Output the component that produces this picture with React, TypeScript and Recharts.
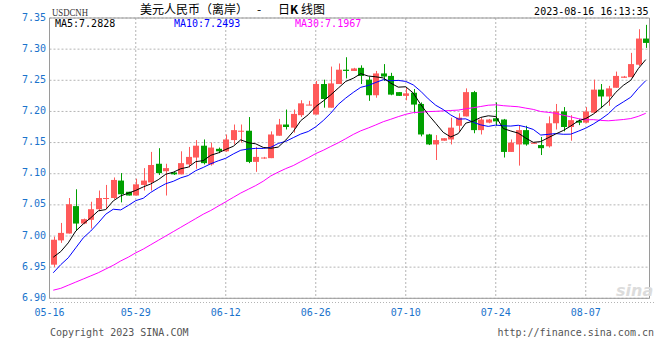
import React from 'react';
import { ComposedChart, Bar, Line, XAxis, YAxis, CartesianGrid, ReferenceLine } from 'recharts';

// ---- data (USD/CNH daily K, Mon–Sat sessions) ----
const dates = [
  '05-16','05-17','05-18','05-19','05-20',
  '05-22','05-23','05-24','05-25','05-26','05-27',
  '05-29','05-30','05-31','06-01','06-02','06-03',
  '06-05','06-06','06-07','06-08','06-09','06-10',
  '06-12','06-13','06-14','06-15','06-16','06-17',
  '06-19','06-20','06-21','06-22','06-23','06-24',
  '06-26','06-27','06-28','06-29','06-30','07-01',
  '07-03','07-04','07-05','07-06','07-07','07-08',
  '07-10','07-11','07-12','07-13','07-14','07-15',
  '07-17','07-18','07-19','07-20','07-21','07-22',
  '07-24','07-25','07-26','07-27','07-28','07-29',
  '07-31','08-01','08-02','08-03','08-04','08-05',
  '08-07','08-08','08-09','08-10','08-11','08-12',
  '08-14','08-15','08-16',
];

const opens = [
  6.954, 6.993, 7.004, 7.048, 7.020, 7.026, 7.043, 7.060, 7.061, 7.089,
  7.071, 7.065, 7.082, 7.086, 7.116, 7.104, 7.102, 7.099, 7.115, 7.126,
  7.145, 7.115, 7.140, 7.136, 7.154, 7.168, 7.169, 7.119, 7.125, 7.125,
  7.161, 7.179, 7.174, 7.194, 7.210, 7.195, 7.244, 7.206, 7.244, 7.267,
  7.265, 7.270, 7.251, 7.226, 7.261, 7.257, 7.231, 7.225, 7.230, 7.212,
  7.163, 7.147, 7.153, 7.155, 7.177, 7.192, 7.231, 7.170, 7.182, 7.189,
  7.187, 7.135, 7.147, 7.170, 7.148, 7.146, 7.144, 7.181, 7.200, 7.175,
  7.185, 7.182, 7.198, 7.235, 7.224, 7.238, 7.254, 7.255, 7.275, 7.317,
];
const highs = [
  6.999, 7.021, 7.061, 7.075, 7.028, 7.055, 7.073, 7.082, 7.094, 7.101,
  7.071, 7.092, 7.109, 7.135, 7.141, 7.116, 7.103, 7.136, 7.143, 7.154,
  7.155, 7.150, 7.142, 7.163, 7.179, 7.179, 7.191, 7.143, 7.127, 7.168,
  7.188, 7.203, 7.203, 7.218, 7.217, 7.249, 7.251, 7.272, 7.277, 7.287,
  7.270, 7.274, 7.256, 7.265, 7.276, 7.262, 7.231, 7.238, 7.236, 7.2145,
  7.164, 7.162, 7.157, 7.190, 7.197, 7.237, 7.233, 7.190, 7.188, 7.2145,
  7.188, 7.155, 7.177, 7.177, 7.150, 7.159, 7.192, 7.212, 7.207, 7.194,
  7.1875, 7.207, 7.251, 7.244, 7.241, 7.264, 7.257, 7.294, 7.332, 7.339,
];
const lows = [
  6.950, 6.989, 7.004, 7.008, 7.019, 7.012, 7.040, 7.043, 7.059, 7.054,
  7.065, 7.065, 7.073, 7.073, 7.098, 7.065, 7.098, 7.099, 7.110, 7.108,
  7.115, 7.113, 7.133, 7.135, 7.147, 7.150, 7.117, 7.103, 7.124, 7.125,
  7.161, 7.171, 7.166, 7.191, 7.210, 7.195, 7.206, 7.206, 7.244, 7.253,
  7.265, 7.244, 7.217, 7.222, 7.249, 7.226, 7.225, 7.218, 7.197, 7.160,
  7.146, 7.122, 7.153, 7.147, 7.167, 7.192, 7.165, 7.163, 7.181, 7.177,
  7.126, 7.135, 7.113, 7.145, 7.148, 7.130, 7.142, 7.171, 7.168, 7.153,
  7.178, 7.181, 7.197, 7.205, 7.209, 7.238, 7.254, 7.255, 7.273, 7.302,
];
const closes = [
  6.994, 7.005, 7.051, 7.020, 7.027, 7.043, 7.061, 7.061, 7.090, 7.067,
  7.065, 7.083, 7.089, 7.114, 7.101, 7.109, 7.099, 7.117, 7.127, 7.145,
  7.117, 7.142, 7.136, 7.155, 7.170, 7.169, 7.119, 7.127, 7.126, 7.163,
  7.179, 7.175, 7.196, 7.213, 7.211, 7.244, 7.220, 7.245, 7.267, 7.265,
  7.269, 7.257, 7.226, 7.261, 7.256, 7.227, 7.225, 7.229, 7.211, 7.163,
  7.147, 7.154, 7.157, 7.174, 7.190, 7.231, 7.170, 7.187, 7.187, 7.184,
  7.135, 7.150, 7.170, 7.147, 7.150, 7.141, 7.181, 7.200, 7.175, 7.186,
  7.182, 7.200, 7.235, 7.224, 7.237, 7.257, 7.256, 7.276, 7.317, 7.310,
];

const ma5Lead = [6.966, 6.975, 6.989, 7.008];
const ma10Lead = [6.941, 6.954, 6.965, 6.981, 6.997, 7.008, 7.021, 7.035, 7.043];
const ma30Lead = [
  6.913, 6.916, 6.921, 6.926, 6.931, 6.936, 6.941, 6.947, 6.953, 6.960,
  6.966, 6.973, 6.979, 6.986, 6.993, 7.000, 7.007, 7.014, 7.021, 7.028,
  7.035, 7.041, 7.048, 7.055, 7.062, 7.069, 7.075, 7.081, 7.088,
];

const yTicks = [6.9, 6.95, 7.0, 7.05, 7.1, 7.15, 7.2, 7.25, 7.3, 7.35];
const tickDates = ['05-16', '05-29', '06-12', '06-26', '07-10', '07-24', '08-07'];

const maLabels = { ma5: 'MA5:7.2828', ma10: 'MA10:7.2493', ma30: 'MA30:7.1967' };

// ---- styling ----
const RED = '#ff5a5a';
const GREEN = '#00a000';
const BLUE_TXT = '#1a73cc';
const BORDER = '#9a9a9a';
const GRID = '#b4b4b4';
const MONO = '"DejaVu Sans Mono", monospace';

const movingAvg = (n: number, lead: number[], i: number) => {
  if (i < lead.length) return lead[i];
  let s = 0;
  for (let k = i - n + 1; k <= i; k++) s += closes[k];
  return s / n;
};

const rows = dates.map((d, i) => ({
  date: d,
  pos: i + 0.5,
  open: opens[i],
  high: highs[i],
  low: lows[i],
  close: closes[i],
  range: [lows[i], highs[i]],
  ma5: movingAvg(5, ma5Lead, i),
  ma10: movingAvg(10, ma10Lead, i),
  ma30: movingAvg(30, ma30Lead, i),
}));

const tickPos = tickDates.map((d) => {
  const k = dates.indexOf(d);
  return k === 0 ? 0 : k + 0.5;
});

const Candle = (props: any) => {
  const { x, y, width, height, payload } = props;
  if (!payload || x == null || y == null) return null;
  const { open, close, high, low } = payload;
  const top = Math.min(y, y + height);
  const h = Math.abs(height);
  const span = high - low;
  const toY = (v: number) => (span > 0 ? top + ((high - v) / span) * h : top);
  const color = close >= open ? RED : GREEN;
  const left = Math.round(x);
  const w = Math.round(width);
  const cx = left + Math.floor(w / 2) + 0.5;
  const yo = toY(open);
  const yc = toY(close);
  const bodyTop = Math.min(yo, yc);
  const bodyH = Math.max(1, Math.abs(yo - yc));
  return (
    <g>
      <line x1={cx} x2={cx} y1={top} y2={top + Math.max(h, 1)} stroke={color} strokeWidth={1} />
      <rect x={left} y={bodyTop} width={w} height={bodyH} fill={color} />
    </g>
  );
};

const YTick = (p: any) => (
  <text x={p.x} y={p.y + 2.5} textAnchor="end" fill={BLUE_TXT} fontSize={10} fontFamily={MONO}>
    {Number(p.payload.value).toFixed(2)}
  </text>
);

export default function App() {
  return (
    <div style={{ position: 'absolute', left: 0, top: 0, width: 660, height: 360, background: '#fff' }}>
      <ComposedChart
        width={660}
        height={360}
        data={rows}
        margin={{ top: 18, right: 10.5, bottom: 41.7, left: 9.5 }}
      >
        <CartesianGrid xAxisId="t" stroke={GRID} strokeDasharray="2 2" />
        <XAxis xAxisId="c" dataKey="date" hide orientation="top" height={0} />
        <XAxis
          xAxisId="t"
          type="number"
          dataKey="pos"
          domain={[0, 80]}
          allowDataOverflow
          ticks={tickPos}
          interval={0}
          tickFormatter={(v: number) => tickDates[tickPos.indexOf(v)] ?? ''}
          axisLine={{ stroke: BORDER }}
          tickLine={false}
          tickSize={0}
          tickMargin={11}
          height={20}
          tick={{ fill: BLUE_TXT, fontSize: 10, fontFamily: MONO }}
        />
        <YAxis
          domain={[6.9, 7.35]}
          ticks={yTicks}
          interval={0}
          allowDataOverflow
          width={40}
          axisLine={{ stroke: BORDER }}
          tickLine={false}
          tickSize={0}
          tickMargin={3.5}
          tick={YTick}
        />
        <ReferenceLine y={7.35} stroke={BORDER} />
        <ReferenceLine xAxisId="t" x={80} stroke={BORDER} />
        <Bar xAxisId="c" dataKey="range" barSize={6} shape={Candle} isAnimationActive={false} />
        <Line xAxisId="c" type="linear" dataKey="ma30" stroke="#ff00ff" strokeWidth={1} dot={false} isAnimationActive={false} />
        <Line xAxisId="c" type="linear" dataKey="ma10" stroke="#0000ff" strokeWidth={1} dot={false} isAnimationActive={false} />
        <Line xAxisId="c" type="linear" dataKey="ma5" stroke="#000000" strokeWidth={1} dot={false} isAnimationActive={false} />
      </ComposedChart>
      <svg width={660} height={360} style={{ position: 'absolute', left: 0, top: 0, pointerEvents: 'none' }}>
        <text x={52} y={16} fontSize={11} fontFamily='"Liberation Serif", serif' fill="#333" textLength={36} lengthAdjust="spacingAndGlyphs">USDCNH</text>
        <text x={140} y={14} fontSize={12} fontFamily='"Noto Sans CJK SC", sans-serif' fill="#000">美元人民币（离岸）</text>
        <text x={257} y={14} fontSize={12} fontFamily='"Noto Sans CJK SC", sans-serif' fill="#000">-</text>
        <text x={278} y={14} fontSize={12} fontFamily='"Noto Sans CJK SC", sans-serif' fill="#000">日<tspan fontWeight="bold">K</tspan> 线图</text>
        <text x={648.5} y={15} textAnchor="end" fontSize={10} fontFamily={MONO} fill="#000">2023-08-16 16:13:35</text>
        <text x={55} y={27} fontSize={10} fontFamily={MONO} fill="#000">{maLabels.ma5}</text>
        <text x={174} y={27} fontSize={10} fontFamily={MONO} fill="#0000ff">{maLabels.ma10}</text>
        <text x={295} y={27} fontSize={10} fontFamily={MONO} fill="#ff00ff">{maLabels.ma30}</text>
        <line x1={50} x2={655} y1={302.5} y2={302.5} stroke={GRID} strokeDasharray="1 2" />
        <text x={616} y={296} fontSize={16} fontStyle="italic" fontWeight="bold" fontFamily='"DejaVu Sans", sans-serif' fill="#dcdcdc">sina</text>
        <text x={50} y={336} fontSize={10} fontFamily={MONO} fill="#555">Copyright 2023 SINA.COM</text>
        <text x={654} y={336} textAnchor="end" fontSize={10} fontFamily={MONO} fill="#555">http://finance.sina.com.cn</text>
      </svg>
    </div>
  );
}
